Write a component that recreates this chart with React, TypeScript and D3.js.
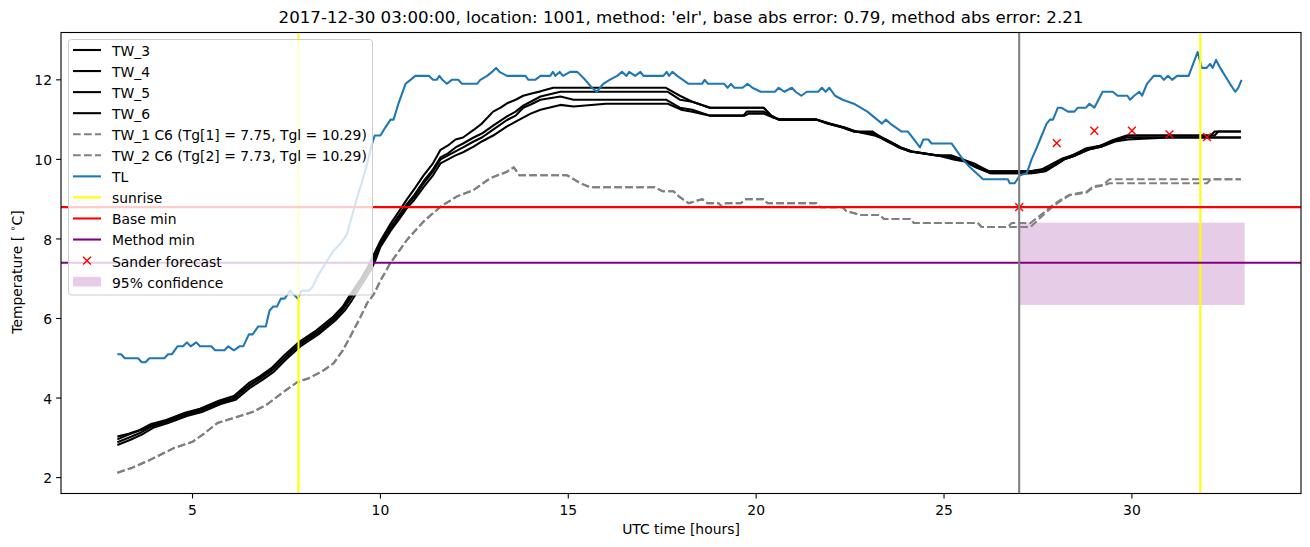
import React from 'react';
import * as d3 from 'd3';

type P = [number, number];

const titleText = "2017-12-30 03:00:00, location: 1001, method: 'elr', base abs error: 0.79, method abs error: 2.21";
const xTicks = [5, 10, 15, 20, 25, 30];
const yTicks = [2, 4, 6, 8, 10, 12];

const tw3: P[] = [[3.0,3.03],[3.3,3.1],[3.6,3.2],[3.9,3.35],[4.3,3.45],[4.8,3.63],[5.2,3.73],[5.7,3.93],[6.1,4.05],[6.5,4.38],[6.8,4.55],[7.1,4.75],[7.45,5.08],[7.85,5.42],[8.3,5.7],[8.75,6.05],[9.0,6.3],[9.2,6.6],[9.45,6.95],[9.65,7.27],[9.82,7.6],[10.0,7.95],[10.27,8.38],[10.5,8.7],[10.71,9.0],[10.9,9.25],[11.15,9.6],[11.4,9.9],[11.6,10.24],[11.8,10.35],[12.0,10.5],[12.2,10.55],[12.48,10.74],[12.7,10.9],[13.0,11.2],[13.2,11.3],[13.37,11.41],[13.6,11.5],[13.8,11.6],[14.0,11.65],[14.26,11.71],[14.6,11.8],[17.6,11.8],[17.97,11.6],[18.3,11.45],[18.77,11.3],[20.2,11.3],[20.4,11.1],[20.6,11.0],[21.6,11.0],[21.9,10.9],[22.3,10.8],[22.6,10.7],[23.1,10.7],[23.4,10.5],[23.8,10.3],[24.1,10.2],[24.8,10.1],[25.2,10.1],[25.5,10.0],[25.8,9.9],[26.2,9.7],[27.3,9.7],[27.6,9.75],[27.9,9.9],[28.17,10.03],[28.44,10.11],[28.79,10.28],[29.15,10.34],[29.5,10.49],[29.86,10.6],[32.1,10.6],[32.2,10.7],[32.9,10.7]];
const tw4: P[] = [[3.0,2.96],[3.35,3.1],[3.65,3.2],[3.95,3.33],[4.35,3.45],[4.85,3.62],[5.25,3.72],[5.75,3.92],[6.15,4.05],[6.55,4.35],[6.85,4.53],[7.15,4.73],[7.5,5.06],[7.9,5.4],[8.35,5.68],[8.8,6.03],[9.05,6.3],[9.25,6.6],[9.5,6.95],[9.7,7.27],[9.85,7.55],[10.0,7.88],[10.27,8.3],[10.5,8.6],[10.71,8.88],[10.9,9.1],[11.15,9.45],[11.4,9.75],[11.6,10.05],[11.8,10.15],[12.0,10.3],[12.2,10.4],[12.48,10.55],[12.7,10.65],[13.0,10.85],[13.37,11.08],[13.6,11.2],[13.8,11.35],[14.0,11.45],[14.26,11.58],[14.79,11.7],[17.65,11.7],[17.97,11.5],[18.3,11.45],[18.77,11.3],[20.2,11.3],[20.4,11.1],[20.6,11.0],[21.6,11.0],[21.9,10.9],[22.3,10.8],[22.6,10.7],[23.1,10.65],[23.4,10.5],[23.8,10.3],[24.1,10.2],[24.8,10.1],[25.2,10.05],[25.5,10.0],[25.8,9.85],[26.2,9.7],[27.3,9.7],[27.7,9.75],[27.95,9.85],[28.2,10.0],[28.5,10.1],[28.85,10.25],[29.2,10.33],[29.55,10.47],[29.9,10.6],[32.2,10.6],[32.3,10.7],[32.9,10.7]];
const tw5: P[] = [[3.0,2.89],[3.3,3.0],[3.6,3.12],[3.9,3.28],[4.3,3.4],[4.8,3.57],[5.2,3.68],[5.7,3.87],[6.1,3.98],[6.5,4.3],[6.8,4.48],[7.1,4.68],[7.45,5.0],[7.85,5.34],[8.3,5.62],[8.75,5.97],[9.0,6.22],[9.2,6.5],[9.45,6.88],[9.65,7.18],[9.82,7.47],[10.0,7.85],[10.27,8.27],[10.5,8.57],[10.71,8.85],[10.9,9.05],[11.15,9.4],[11.4,9.7],[11.6,10.0],[11.8,10.1],[12.0,10.2],[12.2,10.3],[12.48,10.45],[12.7,10.55],[13.0,10.75],[13.37,10.99],[13.6,11.1],[13.8,11.3],[14.0,11.38],[14.26,11.5],[14.79,11.58],[15.14,11.5],[17.6,11.5],[17.97,11.3],[18.3,11.25],[18.77,11.1],[19.66,11.1],[19.75,11.2],[20.2,11.2],[20.4,11.1],[20.6,11.0],[21.6,11.0],[21.95,10.9],[22.35,10.8],[22.65,10.7],[23.15,10.65],[23.45,10.5],[23.85,10.3],[24.15,10.2],[24.85,10.1],[25.25,10.05],[25.55,9.95],[25.85,9.8],[26.25,9.65],[27.3,9.65],[27.65,9.7],[27.9,9.86],[28.17,10.0],[28.44,10.11],[28.79,10.25],[29.15,10.34],[29.5,10.45],[29.86,10.55],[32.9,10.55]];
const tw6: P[] = [[3.0,2.82],[3.35,2.95],[3.65,3.08],[3.95,3.25],[4.35,3.37],[4.85,3.55],[5.25,3.65],[5.75,3.85],[6.15,3.96],[6.55,4.27],[6.85,4.45],[7.15,4.65],[7.5,4.98],[7.9,5.32],[8.35,5.6],[8.8,5.95],[9.05,6.2],[9.25,6.47],[9.5,6.85],[9.7,7.15],[9.85,7.42],[10.0,7.8],[10.27,8.2],[10.5,8.5],[10.71,8.78],[10.9,8.98],[11.15,9.3],[11.4,9.6],[11.6,9.9],[11.8,10.0],[12.0,10.1],[12.2,10.18],[12.48,10.32],[12.7,10.45],[13.0,10.6],[13.37,10.83],[13.6,10.95],[13.8,11.05],[14.0,11.15],[14.26,11.25],[14.79,11.37],[15.14,11.33],[16.0,11.4],[17.65,11.4],[18.0,11.25],[18.3,11.2],[18.77,11.1],[19.7,11.1],[19.8,11.15],[20.2,11.15],[20.45,11.05],[20.65,11.0],[21.6,11.0],[21.95,10.9],[22.35,10.8],[22.65,10.7],[23.15,10.6],[23.45,10.5],[23.85,10.3],[24.15,10.2],[24.85,10.1],[25.25,10.0],[25.55,9.95],[25.85,9.8],[26.25,9.65],[27.35,9.65],[27.7,9.7],[27.95,9.85],[28.2,10.0],[28.5,10.1],[28.85,10.25],[29.2,10.32],[29.55,10.45],[29.9,10.5],[31.0,10.55],[32.9,10.55]];

const tw1: P[] = [[3.0,2.12],[3.4,2.25],[3.88,2.45],[4.5,2.74],[5.0,2.9],[5.3,3.1],[5.66,3.37],[6.1,3.5],[6.63,3.66],[7.0,3.85],[7.43,4.16],[7.79,4.4],[8.1,4.5],[8.5,4.7],[8.76,4.88],[9.0,5.2],[9.2,5.55],[9.45,6.0],[9.65,6.39],[9.82,6.6],[10.0,6.95],[10.27,7.4],[10.5,7.7],[10.71,7.98],[11.15,8.44],[11.6,8.81],[12.04,9.07],[12.48,9.23],[12.93,9.53],[13.37,9.69],[13.55,9.8],[13.7,9.6],[14.26,9.6],[14.97,9.6],[15.32,9.4],[15.59,9.3],[17.3,9.3],[17.5,9.2],[17.8,9.2],[17.97,9.05],[18.2,8.9],[18.56,9.0],[18.7,8.9],[19.0,8.9],[19.1,8.8],[19.2,8.9],[19.6,8.9],[19.7,9.0],[20.2,9.0],[20.3,8.9],[21.6,8.9],[21.7,8.8],[22.3,8.8],[22.4,8.7],[22.8,8.6],[23.3,8.6],[23.4,8.5],[24.1,8.5],[24.2,8.4],[25.9,8.4],[26.0,8.3],[26.7,8.3],[26.8,8.4],[27.3,8.4],[27.64,8.65],[27.9,8.86],[28.1,8.98],[28.35,9.11],[28.8,9.19],[28.97,9.32],[29.24,9.36],[29.4,9.5],[32.9,9.5]];
const tw2: P[] = [[3.0,2.12],[3.4,2.25],[3.88,2.45],[4.5,2.74],[5.0,2.9],[5.3,3.1],[5.66,3.37],[6.1,3.5],[6.63,3.66],[7.0,3.85],[7.43,4.16],[7.79,4.4],[8.1,4.5],[8.5,4.7],[8.76,4.88],[9.0,5.2],[9.2,5.55],[9.45,6.0],[9.65,6.39],[9.82,6.6],[10.0,6.95],[10.27,7.4],[10.5,7.7],[10.71,7.98],[11.15,8.44],[11.6,8.81],[12.04,9.07],[12.48,9.23],[12.93,9.53],[13.37,9.69],[13.55,9.8],[13.7,9.6],[14.26,9.6],[14.97,9.6],[15.32,9.4],[15.59,9.3],[17.3,9.3],[17.5,9.2],[17.8,9.2],[17.97,9.05],[18.2,8.9],[18.56,9.0],[18.7,8.9],[19.0,8.9],[19.1,8.8],[19.2,8.9],[19.6,8.9],[19.7,9.0],[20.2,9.0],[20.3,8.9],[21.6,8.9],[21.7,8.8],[22.3,8.8],[22.4,8.7],[22.8,8.6],[23.3,8.6],[23.4,8.5],[24.1,8.5],[24.2,8.4],[25.9,8.4],[26.0,8.3],[27.3,8.3],[27.64,8.6],[27.9,8.82],[28.1,8.95],[28.35,9.1],[28.8,9.17],[28.97,9.3],[29.24,9.34],[29.4,9.4],[32.0,9.4],[32.1,9.5],[32.9,9.5]];

const tl: P[] = [[3.0,5.1],[3.1,5.1],[3.2,5.0],[3.55,5.0],[3.65,4.9],[3.75,4.9],[3.85,5.0],[4.25,5.0],[4.35,5.1],[4.45,5.1],[4.6,5.3],[4.75,5.3],[4.85,5.4],[4.95,5.3],[5.1,5.4],[5.2,5.3],[5.5,5.3],[5.6,5.2],[5.85,5.2],[5.95,5.3],[6.1,5.2],[6.25,5.3],[6.35,5.3],[6.5,5.6],[6.6,5.6],[6.75,5.8],[6.95,5.8],[7.05,6.2],[7.15,6.3],[7.25,6.3],[7.35,6.5],[7.45,6.5],[7.6,6.7],[7.7,6.6],[7.8,6.5],[7.9,6.7],[8.1,6.7],[8.2,6.8],[8.35,7.1],[8.55,7.4],[8.75,7.7],[8.95,7.9],[9.1,8.1],[9.25,8.6],[9.4,9.1],[9.5,9.4],[9.65,9.9],[9.78,10.4],[9.85,10.6],[10.0,10.6],[10.13,10.8],[10.27,11.0],[10.35,11.0],[10.48,11.4],[10.67,11.9],[10.8,12.0],[10.93,12.1],[11.29,12.1],[11.4,12.0],[11.5,12.0],[11.57,12.1],[11.65,12.0],[11.77,11.9],[11.9,12.0],[12.07,12.0],[12.17,11.9],[12.57,11.9],[12.66,12.0],[12.84,12.1],[12.97,12.2],[13.08,12.3],[13.17,12.2],[13.37,12.1],[13.86,12.1],[13.94,12.0],[14.12,12.0],[14.26,12.1],[14.52,12.1],[14.59,12.2],[14.66,12.1],[14.77,12.2],[14.86,12.1],[15.05,12.2],[15.24,12.2],[15.45,12.0],[15.63,11.8],[15.76,11.7],[15.93,11.9],[16.1,12.0],[16.3,12.1],[16.43,12.2],[16.55,12.1],[16.62,12.2],[16.78,12.1],[16.92,12.2],[17.0,12.1],[17.53,12.1],[17.62,12.2],[17.68,12.1],[17.77,12.2],[17.9,12.1],[18.05,12.0],[18.2,11.9],[18.56,11.9],[18.63,12.0],[18.72,11.9],[19.15,11.9],[19.24,11.8],[19.33,11.9],[19.42,11.8],[19.64,11.8],[19.77,11.9],[19.9,11.8],[20.12,11.7],[20.5,11.7],[20.6,11.8],[20.75,11.7],[20.95,11.8],[21.05,11.7],[21.2,11.6],[21.35,11.7],[21.65,11.7],[21.75,11.8],[21.85,11.7],[21.95,11.8],[22.1,11.6],[22.3,11.5],[22.6,11.4],[22.96,11.2],[23.22,11.0],[23.35,10.9],[23.45,11.0],[23.57,10.9],[23.87,10.7],[24.04,10.7],[24.2,10.5],[24.36,10.3],[24.45,10.5],[24.58,10.5],[24.67,10.4],[25.2,10.4],[25.5,10.0],[25.69,9.8],[26.04,9.5],[26.7,9.5],[26.75,9.4],[26.88,9.4],[27.02,9.6],[27.2,9.65],[27.33,10.0],[27.47,10.3],[27.6,10.6],[27.73,10.9],[27.82,11.0],[27.9,11.0],[28.03,11.3],[28.12,11.3],[28.3,11.2],[28.47,11.2],[28.56,11.3],[28.78,11.3],[28.87,11.4],[29.0,11.3],[29.22,11.7],[29.49,11.7],[29.62,11.6],[29.88,11.6],[29.95,11.5],[30.06,11.6],[30.2,11.7],[30.27,11.6],[30.4,11.9],[30.58,12.1],[30.76,12.1],[30.85,12.0],[30.96,12.1],[31.07,12.0],[31.2,12.1],[31.51,12.1],[31.75,12.7],[31.86,12.3],[31.99,12.3],[32.08,12.4],[32.15,12.3],[32.24,12.5],[32.35,12.3],[32.61,11.9],[32.75,11.7],[32.83,11.8],[32.92,12.0]];

const sunriseTimes = [7.82, 31.82];
const forecastTime = 27.0;
const baseMin = 8.8;
const methodMin = 7.4;
const sanderForecast: P[] = [[27, 8.8], [28, 10.41], [29, 10.72], [30, 10.72], [31, 10.63], [32, 10.56]];
const confidence = { t0: 27, t1: 33, lo: 6.34, hi: 8.41 };

const legendLabels = ['TW_3', 'TW_4', 'TW_5', 'TW_6', 'TW_1 C6 (Tg[1] = 7.75, Tgl = 10.29)', 'TW_2 C6 (Tg[2] = 7.73, Tgl = 10.29)', 'TL', 'sunrise', 'Base min', 'Method min', 'Sander forecast', '95% confidence'];

const FONT = 'DejaVu Sans, sans-serif';
const LW = 2.08;
const DASH = '7.7 3.3';
const BLUE = '#1f77b4';

export default function App() {
  const L = 61, R = 1301, T = 32.5, B = 493.5;
  const x = d3.scaleLinear().domain([1.5, 34.5]).range([L, R]);
  const y = d3.scaleLinear().domain([1.6, 13.19]).range([B, T]);
  const line = d3.line<P>().x(d => x(d[0])).y(d => y(d[1]));

  const black = [tw3, tw4, tw5, tw6];
  const gray = [tw1, tw2];

  const legY0 = 50, legStep = 21.06;
  const hx0 = 73, hx1 = 101, tx = 112;

  const cross = (cx: number, cy: number, s: number, key: string) => (
    <path key={key} d={`M${cx - s},${cy - s}L${cx + s},${cy + s}M${cx - s},${cy + s}L${cx + s},${cy - s}`} stroke="#ff0000" strokeWidth={1.4} fill="none" />
  );

  const legendHandle = (i: number) => {
    const cy = legY0 + i * legStep;
    if (i < 4) return <line x1={hx0} x2={hx1} y1={cy} y2={cy} stroke="#000" strokeWidth={LW} />;
    if (i < 6) return <line x1={hx0} x2={hx1} y1={cy} y2={cy} stroke="#808080" strokeWidth={LW} strokeDasharray={DASH} />;
    if (i === 6) return <line x1={hx0} x2={hx1} y1={cy} y2={cy} stroke={BLUE} strokeWidth={LW} />;
    if (i === 7) return <line x1={hx0} x2={hx1} y1={cy} y2={cy} stroke="#ffff00" strokeWidth={LW} />;
    if (i === 8) return <line x1={hx0} x2={hx1} y1={cy} y2={cy} stroke="#ff0000" strokeWidth={LW} />;
    if (i === 9) return <line x1={hx0} x2={hx1} y1={cy} y2={cy} stroke="#800080" strokeWidth={LW} />;
    if (i === 10) return cross((hx0 + hx1) / 2, cy, 3.9, 'lc');
    return <rect x={hx0} y={cy - 4.8} width={hx1 - hx0} height={9.6} fill="#800080" fillOpacity={0.2} />;
  };

  return (
    <svg width={1310} height={547} style={{ position: 'absolute', left: 0, top: 0, background: '#fff' }} fontFamily={FONT}>
      <defs>
        <clipPath id="ax"><rect x={L} y={T} width={R - L} height={B - T} /></clipPath>
      </defs>
      <rect x={0} y={0} width={1310} height={547} fill="#fff" />
      <g clipPath="url(#ax)">
        <rect x={x(confidence.t0)} y={y(confidence.hi)} width={x(confidence.t1) - x(confidence.t0)} height={y(confidence.lo) - y(confidence.hi)} fill="#800080" fillOpacity={0.2} />
        {black.map((s, i) => <path key={'b' + i} d={line(s) || ''} fill="none" stroke="#000" strokeWidth={LW} strokeLinejoin="round" />)}
        {gray.map((s, i) => <path key={'g' + i} d={line(s) || ''} fill="none" stroke="#808080" strokeWidth={LW} strokeDasharray={DASH} strokeLinejoin="round" />)}
        <path d={line(tl) || ''} fill="none" stroke={BLUE} strokeWidth={LW} strokeLinejoin="round" />
        {sunriseTimes.map((t, i) => <line key={'s' + i} x1={x(t)} x2={x(t)} y1={T} y2={B} stroke="#ffff00" strokeWidth={LW} />)}
        <line x1={L} x2={R} y1={y(baseMin)} y2={y(baseMin)} stroke="#ff0000" strokeWidth={LW} />
        <line x1={L} x2={R} y1={y(methodMin)} y2={y(methodMin)} stroke="#800080" strokeWidth={LW} />
        {sanderForecast.map((d, i) => cross(x(d[0]), y(d[1]), 3.9, 'sf' + i))}
        <line x1={x(forecastTime)} x2={x(forecastTime)} y1={T} y2={B} stroke="#808080" strokeWidth={LW} />
      </g>
      <rect x={L} y={T} width={R - L} height={B - T} fill="none" stroke="#000" strokeWidth={1.1} />
      {xTicks.map(t => (
        <g key={'xt' + t}>
          <line x1={x(t)} x2={x(t)} y1={B} y2={B + 4.9} stroke="#000" strokeWidth={1.1} />
          <text x={x(t)} y={515} textAnchor="middle" fontSize={13.9} fill="#000">{t}</text>
        </g>
      ))}
      {yTicks.map(t => (
        <g key={'yt' + t}>
          <line x1={L - 4.9} x2={L} y1={y(t)} y2={y(t)} stroke="#000" strokeWidth={1.1} />
          <text x={52} y={y(t) + 5.6} textAnchor="end" fontSize={13.9} fill="#000">{t}</text>
        </g>
      ))}
      <text x={(L + R) / 2} y={534} textAnchor="middle" fontSize={13.9} fill="#000">UTC time [hours]</text>
      <text transform={`translate(22,272) rotate(-90)`} textAnchor="middle" fontSize={13.9} fill="#000" xmlSpace="preserve">
        {'Temperature [ '}<tspan fontSize={9.7} dy={-6}>∘</tspan><tspan dy={6}>C]</tspan>
      </text>
      <text x={(L + R) / 2} y={23} textAnchor="middle" fontSize={16.67} fill="#000">{titleText}</text>
      <rect x={68.5} y={39.5} width={304} height={255.5} rx={2.8} fill="#fff" fillOpacity={0.8} stroke="#cccccc" strokeWidth={1} />
      {legendLabels.map((lab, i) => (
        <g key={'lg' + i}>
          {legendHandle(i)}
          <text x={tx} y={legY0 + i * legStep + 5.9} fontSize={13.9} fill="#000">{lab}</text>
        </g>
      ))}
    </svg>
  );
}
